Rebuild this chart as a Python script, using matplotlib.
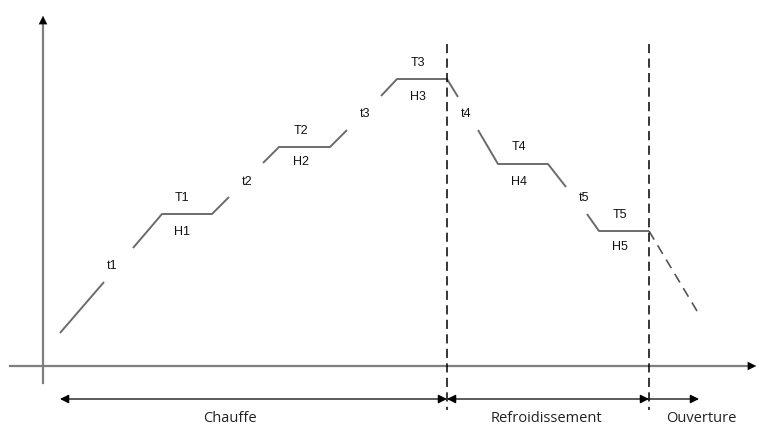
import matplotlib
matplotlib.use("Agg")
import matplotlib.pyplot as plt

# profil de cuisson (coordonnées du schéma, y vers le bas)
seg_x = [[60, 104], [133, 162, 212, 229], [263, 279, 330, 347],
         [381, 397, 447, 458], [478, 498, 548, 566], [587, 599, 649]]
seg_y = [[333, 282], [248, 214, 214, 197], [163, 147, 147, 130],
         [96, 79, 79, 97], [130, 164, 164, 187], [214, 231, 231]]
open_x = [649, 700]
open_y = [231, 316]

labels = ["t1", "T1", "H1", "t2", "T2", "H2", "t3", "T3", "H3",
          "t4", "T4", "H4", "t5", "T5", "H5"]
label_x = [112, 182, 182, 247, 301, 301, 365, 418, 418,
           466, 519, 519, 584, 620, 620]
label_y = [266, 198, 232, 182, 131, 162, 114, 63, 97,
           114, 147, 182, 198, 215, 247]

phase_limits = [60, 447, 649, 699]
phase_names = ["Chauffe", "Refroidissement", "Ouverture"]
phase_label_x = [230, 546, 701]

fig = plt.figure(figsize=(7.59, 4.25), dpi=100)
ax = fig.add_axes([0, 0, 1, 1])
ax.set_xlim(0, 759)
ax.set_ylim(425, 0)
ax.axis("off")

# axes du graphe
axis_col = "#7f7f7f"
ax.plot([43, 43], [383, 22], color=axis_col, lw=1.6)
ax.plot([10, 752], [366, 366], color=axis_col, lw=1.6)
ax.annotate("", xy=(43, 13), xytext=(43, 26),
            arrowprops=dict(arrowstyle="-|>", color="black", lw=0.1,
                            mutation_scale=15))
ax.annotate("", xy=(759, 366), xytext=(748, 366),
            arrowprops=dict(arrowstyle="-|>", color="black", lw=0.1,
                            mutation_scale=15))

# courbe
for xs, ys in zip(seg_x, seg_y):
    ax.plot(xs, ys, color="#6b6b6b", lw=1.4, solid_capstyle="butt")
ax.plot(open_x, open_y, color="#555555", lw=1.2, ls=(0, (6, 4)))

for txt, x, y in zip(labels, label_x, label_y):
    ax.text(x, y, txt, ha="center", va="center", fontsize=9,
            family="Liberation Sans", color="#111111")

# séparations des phases
for x in phase_limits[1:3]:
    ax.plot([x, x], [44, 410], color="black", lw=1.1, ls=(0, (6, 3.5)))

for i, name in enumerate(phase_names):
    x0, x1 = phase_limits[i], phase_limits[i + 1]
    style = "<|-|>" if i < 2 else "-|>"
    ax.annotate("", xy=(x1, 399), xytext=(x0, 399),
                arrowprops=dict(arrowstyle=style, color="black", lw=0.9,
                                mutation_scale=13, shrinkA=0, shrinkB=0))
    ax.text(phase_label_x[i], 418, name, ha="center", va="center",
            fontsize=10.5, family="Open Sans", color="#222222")

fig.savefig("out.png", dpi=100)
